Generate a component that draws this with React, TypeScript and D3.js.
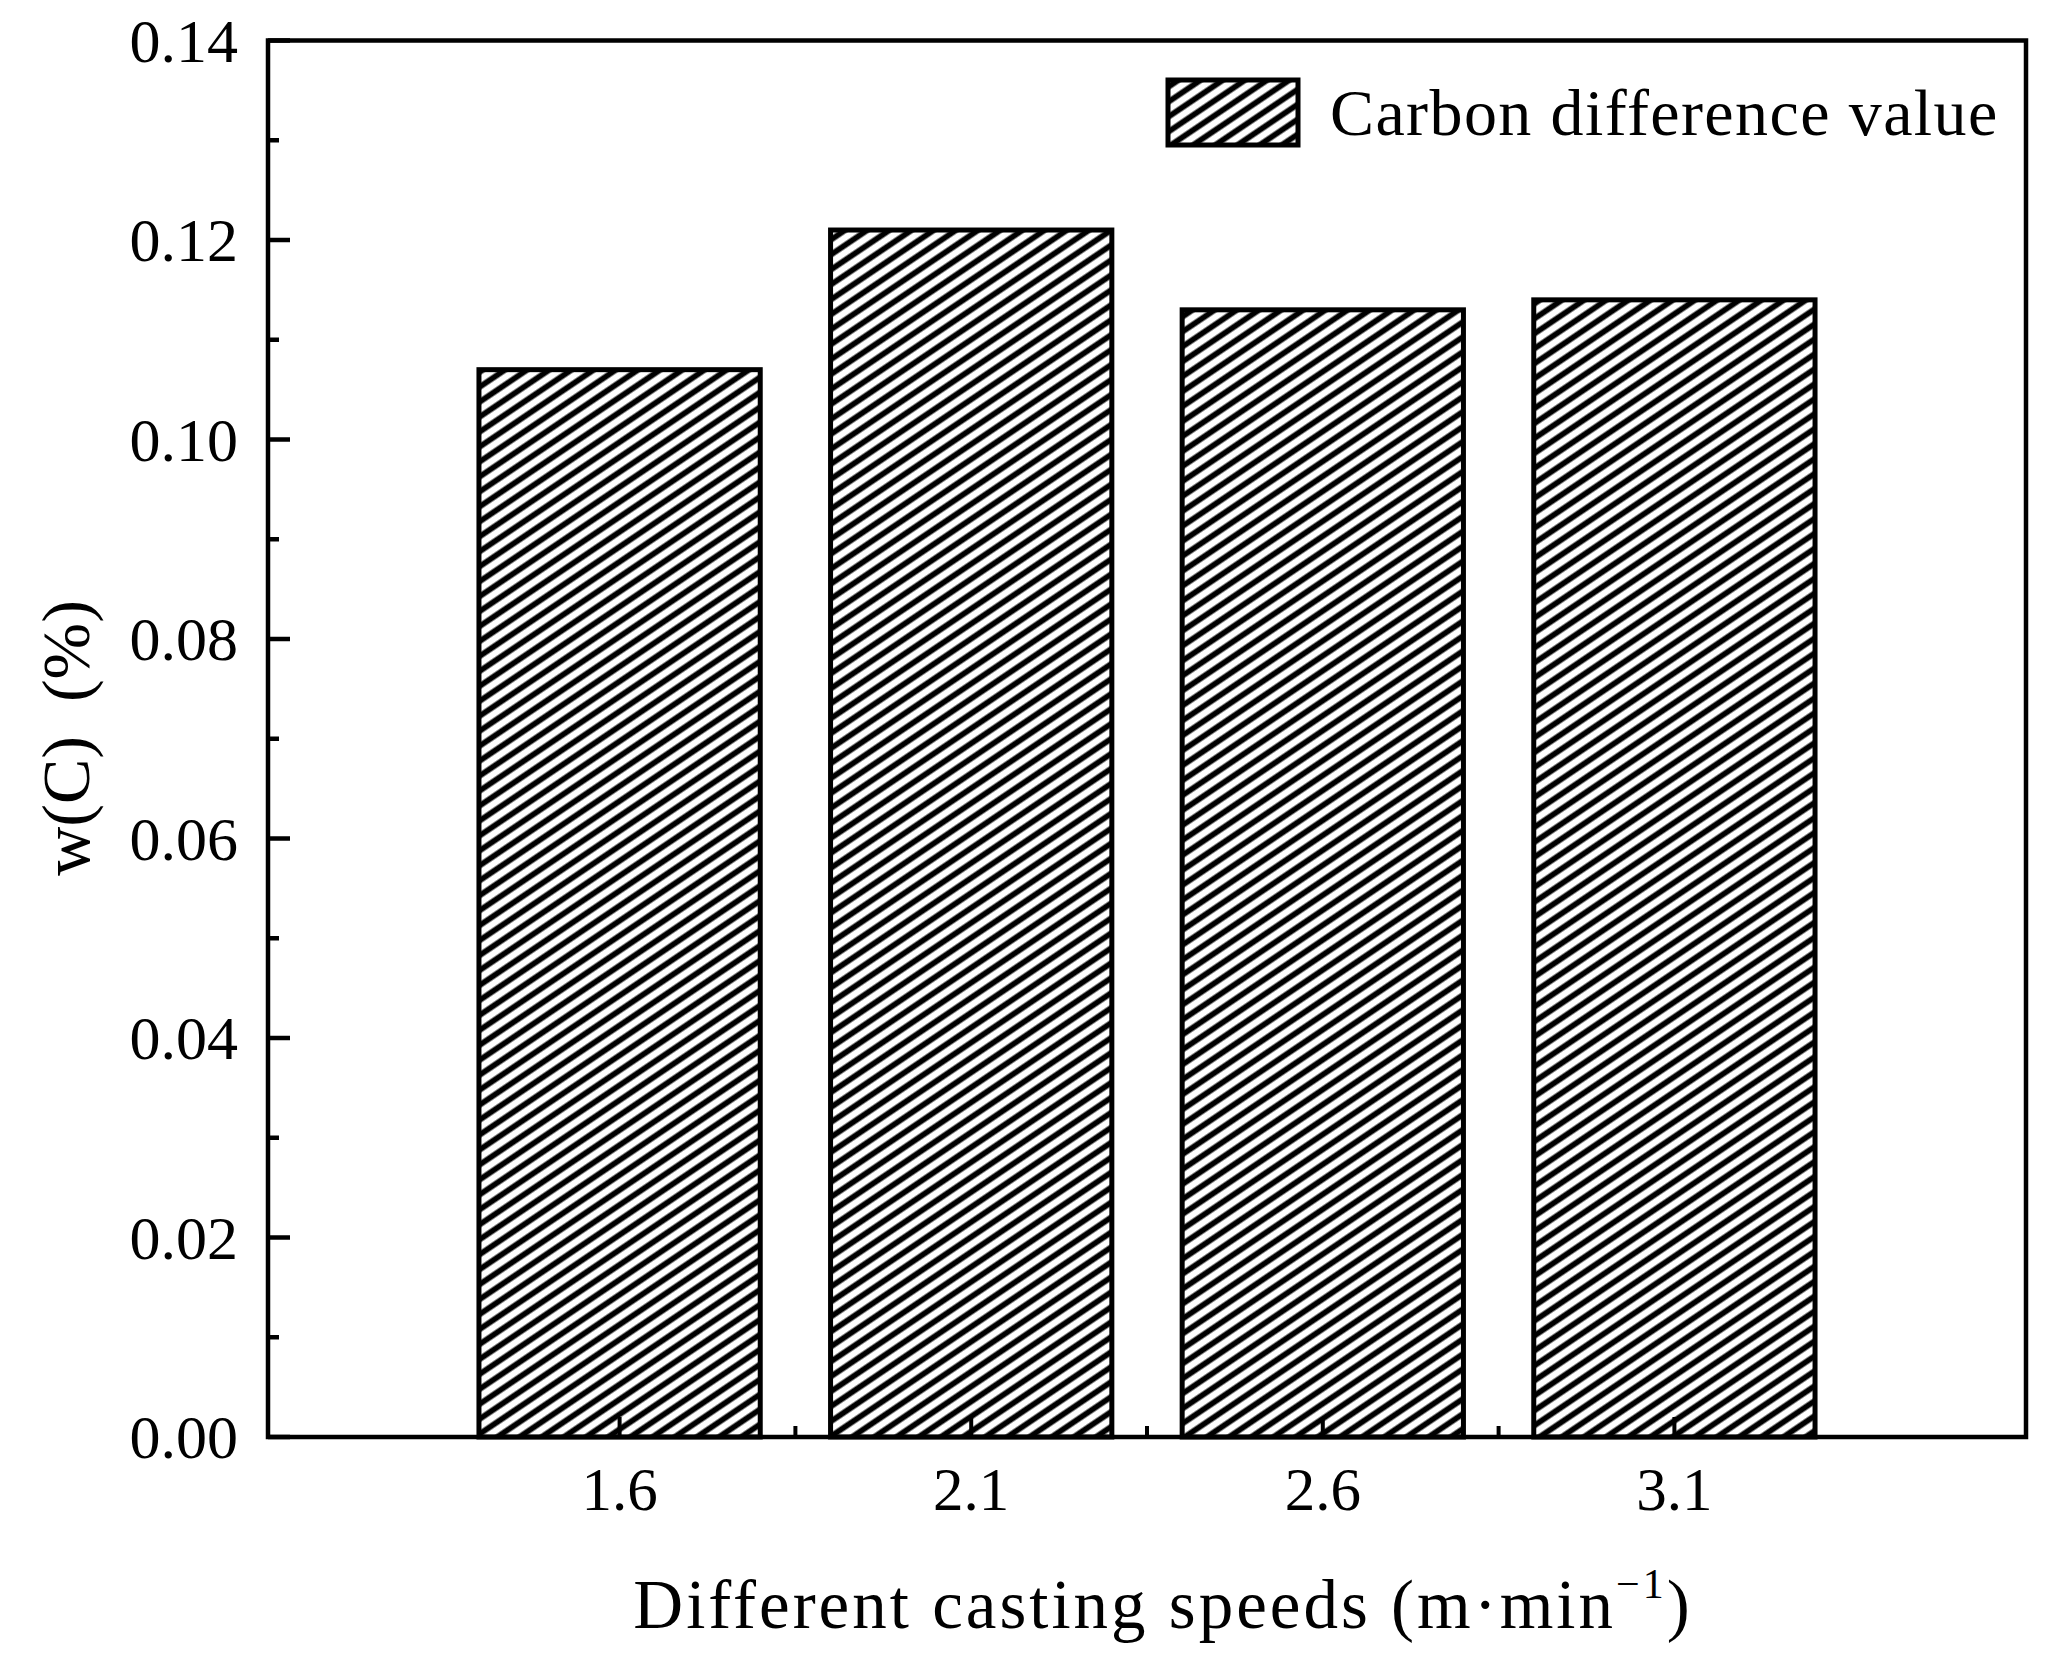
import { useEffect, useRef } from 'react'
import * as d3 from 'd3'

const speeds = [1.6, 2.1, 2.6, 3.1]
const speedLabels = ['1.6', '2.1', '2.6', '3.1']
const carbonDiff = [0.107, 0.121, 0.113, 0.114]
const minorXTicks = [1.85, 2.35, 2.85]
const yTicks = [0, 0.02, 0.04, 0.06, 0.08, 0.1, 0.12, 0.14]
const yTickLabels = ['0.00', '0.02', '0.04', '0.06', '0.08', '0.10', '0.12', '0.14']
const yMinorTicks = [0.01, 0.03, 0.05, 0.07, 0.09, 0.11, 0.13]
const legendLabel = 'Carbon difference value'

const W = 2062
const H = 1666
const FONT = '"Liberation Serif", "Times New Roman", serif'

export default function App() {
  const svgRef = useRef<SVGSVGElement>(null)

  useEffect(() => {
    if (!svgRef.current) return
    const svg = d3.select(svgRef.current)
    svg.selectAll('*').remove()

    const left = 268
    const right = 2026
    const top = 40.5
    const bottom = 1437

    const x = d3.scaleLinear().domain([1.1, 3.6]).range([left, right])
    const y = d3.scaleLinear().domain([0, 0.14]).range([bottom, top])
    const barW = x(1.5) - x(1.1)

    // hatch pattern
    const defs = svg.append('defs')
    const pat = defs.append('pattern')
      .attr('id', 'hatch')
      .attr('patternUnits', 'userSpaceOnUse')
      .attr('width', 40)
      .attr('height', 12.4)
      .attr('patternTransform', 'rotate(-34)')
    pat.append('rect').attr('width', 40).attr('height', 12.4).attr('fill', '#fff')
    pat.append('line')
      .attr('x1', 0).attr('x2', 40)
      .attr('y1', 6.2).attr('y2', 6.2)
      .attr('stroke', '#000')
      .attr('stroke-width', 5.5)

    svg.append('rect').attr('width', W).attr('height', H).attr('fill', '#fff')

    // bars
    speeds.forEach((s, i) => {
      svg.append('rect')
        .attr('x', x(s) - barW / 2)
        .attr('y', y(carbonDiff[i]))
        .attr('width', barW)
        .attr('height', y(0) - y(carbonDiff[i]))
        .attr('fill', 'url(#hatch)')
        .attr('stroke', '#000')
        .attr('stroke-width', 5)
    })

    // frame
    svg.append('rect')
      .attr('x', left)
      .attr('y', top)
      .attr('width', right - left)
      .attr('height', bottom - top)
      .attr('fill', 'none')
      .attr('stroke', '#000')
      .attr('stroke-width', 4.5)

    // y ticks
    yTicks.forEach((t, i) => {
      svg.append('line')
        .attr('x1', left).attr('x2', left + 22)
        .attr('y1', y(t)).attr('y2', y(t))
        .attr('stroke', '#000').attr('stroke-width', 4.5)
      svg.append('text')
        .attr('x', left - 30)
        .attr('y', y(t))
        .attr('dy', '0.34em')
        .attr('text-anchor', 'end')
        .style('font-family', FONT)
        .style('font-size', '62px')
        .text(yTickLabels[i])
    })
    yMinorTicks.forEach(t => {
      svg.append('line')
        .attr('x1', left).attr('x2', left + 11)
        .attr('y1', y(t)).attr('y2', y(t))
        .attr('stroke', '#000').attr('stroke-width', 4.5)
    })

    // x ticks
    speeds.forEach((s, i) => {
      svg.append('line')
        .attr('x1', x(s)).attr('x2', x(s))
        .attr('y1', bottom).attr('y2', bottom - 20)
        .attr('stroke', '#000').attr('stroke-width', 4)
      svg.append('text')
        .attr('x', x(s))
        .attr('y', 1510)
        .attr('text-anchor', 'middle')
        .style('font-family', FONT)
        .style('font-size', '61px')
        .text(speedLabels[i])
    })
    minorXTicks.forEach(s => {
      svg.append('line')
        .attr('x1', x(s)).attr('x2', x(s))
        .attr('y1', bottom).attr('y2', bottom - 11)
        .attr('stroke', '#000').attr('stroke-width', 4)
    })

    // axis titles
    svg.append('text')
      .attr('transform', 'translate(89, 738) rotate(-90)')
      .attr('text-anchor', 'middle')
      .style('font-family', FONT)
      .style('font-size', '68px')
      .style('white-space', 'pre')
      .text('w(C)  (%)')

    const xt = svg.append('text')
      .attr('x', 1163)
      .attr('y', 1628)
      .attr('text-anchor', 'middle')
      .style('font-family', FONT)
      .style('font-size', '69px')
      .style('letter-spacing', '3px')
    xt.append('tspan').text('Different casting speeds (m·min')
    xt.append('tspan')
      .attr('dy', -30)
      .style('font-size', '42px')
      .text('−1')
    xt.append('tspan')
      .attr('dy', 30)
      .text(')')

    // legend
    svg.append('rect')
      .attr('x', 1168)
      .attr('y', 80)
      .attr('width', 130)
      .attr('height', 65)
      .attr('fill', 'url(#hatch)')
      .attr('stroke', '#000')
      .attr('stroke-width', 5)
    svg.append('text')
      .attr('x', 1330)
      .attr('y', 135)
      .style('font-family', FONT)
      .style('font-size', '66px')
      .style('letter-spacing', '1.4px')
      .text(legendLabel)
  }, [])

  return (
    <svg
      ref={svgRef}
      width={W}
      height={H}
      style={{ position: 'absolute', left: 0, top: 0, display: 'block' }}
    />
  )
}
